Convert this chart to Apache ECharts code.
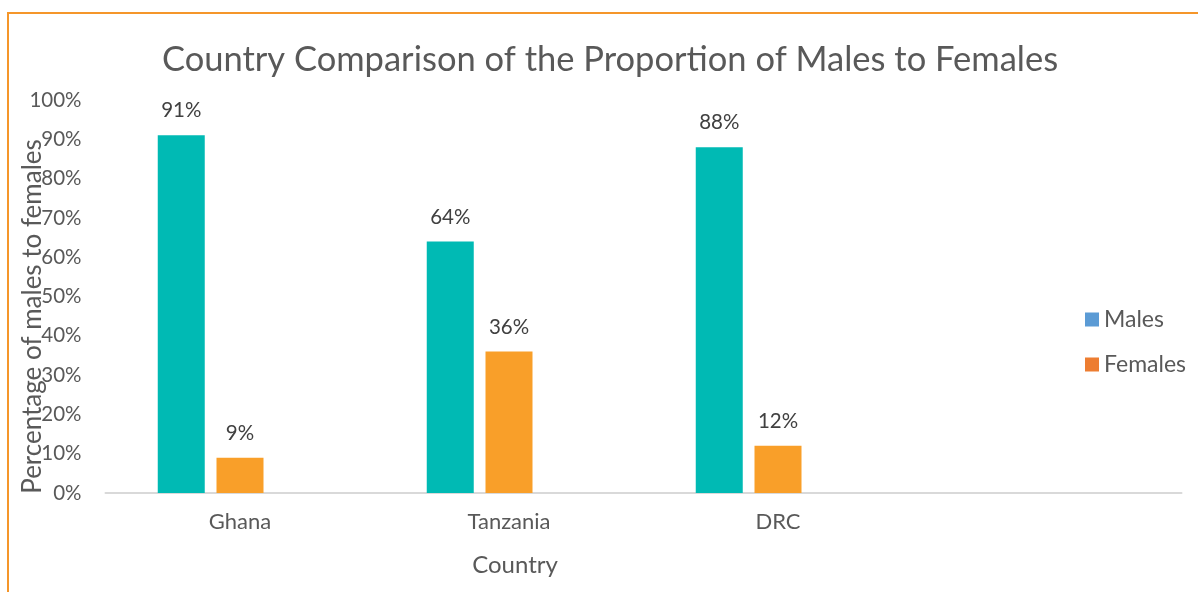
<!DOCTYPE html>
<html>
<head>
<meta charset="utf-8">
<script src="https://cdn.jsdelivr.net/npm/echarts@6/dist/echarts.min.js"></script>
<style>
  html, body { margin: 0; padding: 0; background: #fff; }
  #chart { width: 1198px; height: 592px; }
</style>
</head>
<body>
<div id="chart"></div>
<script>
// Share of males vs females per country (%)
const countries = ['Ghana', 'Tanzania', 'DRC', ''];
const males = [91, 64, 88];
const females = [9, 36, 12];
const yTicks = { min: 0, max: 100, interval: 10 };

const FONT = 'Lato';
const chart = echarts.init(document.getElementById('chart'), null, { renderer: 'canvas' });

const barLabel = {
  show: true,
  position: 'top',
  distance: 14,
  formatter: '{c}%',
  color: '#404040',
  fontFamily: FONT,
  fontSize: 20.5
};

chart.setOption({
  backgroundColor: '#ffffff',
  animation: false,
  title: {
    text: 'Country Comparison of the Proportion of Males to Females',
    left: 605,
    textAlign: 'center',
    top: 37,
    textStyle: { color: '#595959', fontFamily: FONT, fontSize: 34.5, fontWeight: 'normal' }
  },
  legend: {
    orient: 'vertical',
    left: 1080,
    top: 303,
    itemWidth: 14,
    itemHeight: 14,
    itemGap: 22,
    icon: 'rect',
    textStyle: { color: '#595959', fontFamily: FONT, fontSize: 23 },
    data: [
      { name: 'Males', itemStyle: { color: '#5B9BD5' } },
      { name: 'Females', itemStyle: { color: '#ED7D31' } }
    ]
  },
  grid: {
    left: 105.5, right: 16.5, top: 100, bottom: 99,
    containLabel: false,
    outerBoundsMode: 'none'
  },
  xAxis: {
    type: 'category',
    data: countries,
    name: 'Country',
    nameLocation: 'middle',
    nameGap: 60,
    nameMoveOverlap: false,
    nameTextStyle: { color: '#595959', fontFamily: FONT, fontSize: 24, padding: [0, 257, 0, 0] },
    axisLine: { lineStyle: { color: '#D9D9D9', width: 2 } },
    axisTick: { show: false },
    axisLabel: { color: '#595959', fontFamily: FONT, fontSize: 22, margin: 18 },
    splitLine: { show: false }
  },
  yAxis: {
    type: 'value',
    min: yTicks.min,
    max: yTicks.max,
    interval: yTicks.interval,
    name: 'Percentage of males to females',
    nameLocation: 'middle',
    nameGap: 60,
    nameMoveOverlap: false,
    nameTextStyle: { color: '#595959', fontFamily: FONT, fontSize: 26, padding: [0, 40, 0, 0] },
    axisLine: { show: false },
    axisTick: { show: false },
    splitLine: { show: false },
    axisLabel: { color: '#595959', fontFamily: FONT, fontSize: 20.5, margin: 24, formatter: '{value}%' }
  },
  series: [
    {
      name: 'Males',
      type: 'bar',
      data: males,
      barWidth: 47,
      barGap: '25%',
      itemStyle: { color: '#00BAB4' },
      label: barLabel
    },
    {
      name: 'Females',
      type: 'bar',
      data: females,
      barWidth: 47,
      barGap: '25%',
      itemStyle: { color: '#F99F29' },
      label: barLabel
    },
    {
      // empty third slot in each cluster
      name: 'spacer',
      type: 'bar',
      data: [],
      barWidth: 47,
      barGap: '25%'
    }
  ],
  graphic: [
    {
      type: 'rect',
      silent: true,
      shape: { x: 8, y: 13, width: 1400, height: 800 },
      style: { fill: 'none', stroke: '#F5962A', lineWidth: 2 }
    }
  ]
});
</script>
</body>
</html>
